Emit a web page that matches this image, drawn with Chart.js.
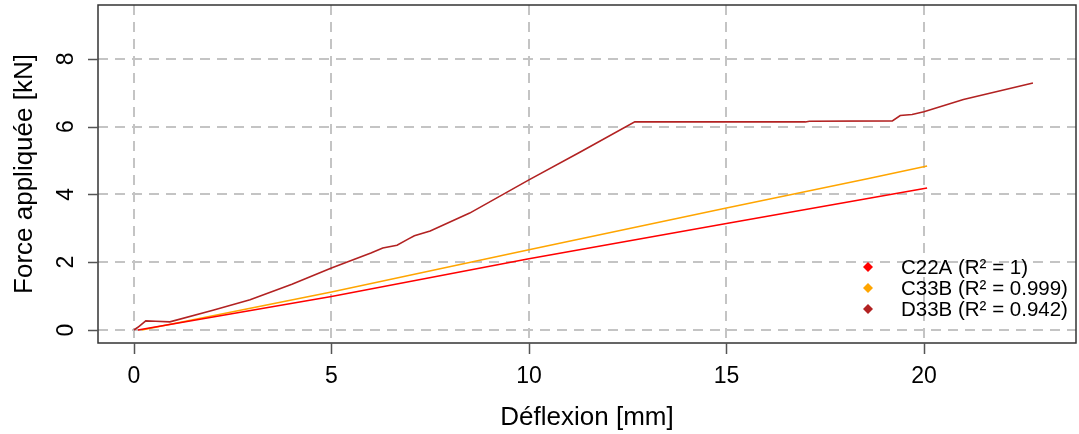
<!DOCTYPE html>
<html>
<head>
<meta charset="utf-8">
<script src="https://cdn.jsdelivr.net/npm/chart.js@4"></script>
<style>
  html, body { margin: 0; padding: 0; background: white; }
  #wrap { width: 1079px; height: 434px; }
</style>
</head>
<body>
<div id="wrap"><canvas id="forceChart" width="1079" height="434"></canvas></div>
<script>
// values
const xTicks = [0, 5, 10, 15, 20];
const yTicks = [0, 2, 4, 6, 8];

const seriesNames = ['C22A', 'C33B', 'D33B'];
const seriesR2 = ['1', '0.999', '0.942'];

const deflexionC22A = [0.1, 5, 10, 15, 20.08];
const forceC22A = [0, 0.99, 2.1, 3.14, 4.19];

const deflexionC33B = [0.2, 5, 10, 15, 18.6, 20.08];
const forceC33B = [0, 1.12, 2.37, 3.6, 4.47, 4.84];

const deflexionD33B = [0, 0.1, 0.3, 0.55, 0.91, 2.0, 2.94, 4.0, 5.0, 6.0, 6.3, 6.66, 6.94, 7.1, 7.5, 8.5, 10.0, 11.3, 12.68, 17.0, 17.1, 19.2, 19.4, 19.7, 20.0, 21.0, 22.76];
const forceD33B = [0, 0.08, 0.27, 0.26, 0.24, 0.58, 0.89, 1.35, 1.83, 2.27, 2.42, 2.5, 2.68, 2.78, 2.92, 3.45, 4.43, 5.25, 6.14, 6.14, 6.16, 6.17, 6.33, 6.36, 6.44, 6.8, 7.29];

const colours = ['#ff0000', '#ffa500', '#b22222'];

function toPoints(xs, ys) {
    return xs.map((v, i) => ({ x: v, y: ys[i] }));
}

const font = '"Liberation Sans", Arial, sans-serif';

// R style frame, ticks, labels and legend
const rStyle = {
    id: 'rStyle',
    afterDraw(chart) {
        const ctx = chart.ctx;
        const area = chart.chartArea;
        const xs = chart.scales.x;
        const ys = chart.scales.y;
        ctx.save();

        // box
        ctx.strokeStyle = '#333';
        ctx.lineWidth = 1.5;
        ctx.strokeRect(area.left, area.top, area.right - area.left, area.bottom - area.top);

        // tick marks
        ctx.strokeStyle = '#555';
        ctx.beginPath();
        xTicks.forEach(t => {
            const px = Math.round(xs.getPixelForValue(t)) + 0.5;
            ctx.moveTo(px, area.bottom);
            ctx.lineTo(px, area.bottom + 11);
        });
        yTicks.forEach(t => {
            const py = Math.round(ys.getPixelForValue(t)) + 0.5;
            ctx.moveTo(area.left, py);
            ctx.lineTo(area.left - 10, py);
        });
        ctx.stroke();

        // tick labels
        ctx.fillStyle = '#000';
        ctx.font = '23px ' + font;
        ctx.textAlign = 'center';
        ctx.textBaseline = 'alphabetic';
        xTicks.forEach(t => {
            ctx.fillText(String(t), xs.getPixelForValue(t), 383);
        });
        yTicks.forEach(t => {
            ctx.save();
            ctx.translate(73, ys.getPixelForValue(t));
            ctx.rotate(-Math.PI / 2);
            ctx.fillText(String(t), 0, 0);
            ctx.restore();
        });

        // axis titles
        ctx.font = '26px ' + font;
        ctx.fillText('Déflexion [mm]', (area.left + area.right) / 2, 425);
        ctx.save();
        ctx.translate(32, (area.top + area.bottom) / 2);
        ctx.rotate(-Math.PI / 2);
        ctx.fillText('Force appliquée [kN]', 0, 0);
        ctx.restore();

        // legend
        const legendY = [267, 288, 309];
        ctx.font = '20.5px ' + font;
        ctx.textAlign = 'left';
        ctx.textBaseline = 'middle';
        seriesNames.forEach((name, i) => {
            const cy = legendY[i];
            ctx.fillStyle = colours[i];
            ctx.beginPath();
            ctx.moveTo(868, cy - 5);
            ctx.lineTo(873, cy);
            ctx.lineTo(868, cy + 5);
            ctx.lineTo(863, cy);
            ctx.closePath();
            ctx.fill();
            ctx.fillStyle = '#000';
            ctx.fillText(name + ' (R² = ' + seriesR2[i] + ')', 901, cy + 1);
        });

        ctx.restore();
    }
};

var ctx = document.getElementById('forceChart');

const gridStyle = {
    color: '#c4c4c4',
    lineWidth: 2,
    drawTicks: false
};

new Chart(ctx, {
    type: 'line',
    data: {
        datasets: [
            { label: 'C22A', data: toPoints(deflexionC22A, forceC22A) },
            { label: 'C33B', data: toPoints(deflexionC33B, forceC33B) },
            { label: 'D33B', data: toPoints(deflexionD33B, forceD33B) }
        ].map((d, i) => Object.assign(d, {
            borderColor: colours[i],
            borderWidth: 1.6,
            pointRadius: 0,
            tension: 0,
            fill: false
        }))
    },
    options: {
        responsive: false,
        animation: false,
        events: [],
        layout: { padding: { left: 0, top: 5, right: 3, bottom: 0 } },
        plugins: {
            legend: { display: false },
            tooltip: { enabled: false }
        },
        scales: {
            x: {
                type: 'linear',
                min: -0.91,
                max: 23.85,
                afterFit(scale) { scale.height = 91; },
                ticks: { display: false, stepSize: 5, includeBounds: false },
                afterBuildTicks(scale) { scale.ticks = xTicks.map(v => ({ value: v })); },
                grid: gridStyle,
                border: { display: false, dash: [10, 7] }
            },
            y: {
                type: 'linear',
                min: -0.384,
                max: 9.59,
                afterFit(scale) { scale.width = 98; },
                ticks: { display: false, stepSize: 2, includeBounds: false },
                afterBuildTicks(scale) { scale.ticks = yTicks.map(v => ({ value: v })); },
                grid: gridStyle,
                border: { display: false, dash: [10, 7] }
            }
        }
    },
    plugins: [rStyle]
});
</script>
</body>
</html>
